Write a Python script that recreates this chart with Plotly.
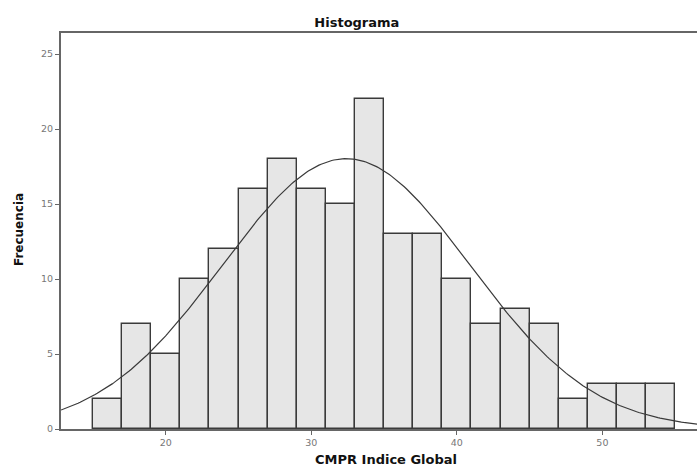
import numpy as np
import plotly.graph_objects as go

# Data
bin_edges = [15, 17, 19, 21, 23, 25, 27, 29, 31, 33, 35, 37, 39, 41, 43, 45, 47, 49, 51, 53, 55]
counts = [2, 7, 5, 10, 12, 16, 18, 16, 15, 22, 13, 13, 10, 7, 8, 7, 2, 3, 3, 3]
fit_mean = 32.4
fit_sd = 8.5
x_ticks = [20, 30, 40, 50]
y_ticks = [0, 5, 10, 15, 20, 25]
title_text = "Histograma"
x_title = "CMPR Indice Global"
y_title = "Frecuencia"

edges = np.array(bin_edges, dtype=float)
mids = (edges[:-1] + edges[1:]) / 2
widths = np.diff(edges)
n_total = sum(counts)
bw = widths.mean()

xs = np.linspace(12.8, 56.6, 300)
ys = n_total * bw / (fit_sd * np.sqrt(2 * np.pi)) * np.exp(-0.5 * ((xs - fit_mean) / fit_sd) ** 2)

fig = go.Figure()
fig.add_trace(go.Bar(
    x=mids, y=counts, width=widths,
    marker=dict(color="#e6e6e6", line=dict(color="#3a3a3a", width=1.4)),
    hoverinfo="x+y", showlegend=False,
))
fig.add_trace(go.Scatter(
    x=xs, y=ys, mode="lines",
    line=dict(color="#3a3a3a", width=1.2), showlegend=False,
))

bold = "DejaVu Sans, Verdana, sans-serif"
fig.update_layout(
    width=697, height=468,
    margin=dict(l=61, r=0, t=33, b=39),
    paper_bgcolor="white", plot_bgcolor="white",
    bargap=0,
    font=dict(family="DejaVu Sans, sans-serif"),
    title=dict(text=f"<b>{title_text}</b>", x=0.512, xanchor="center", y=0.953, yanchor="middle",
               font=dict(size=13, color="#111", family=bold)),
    annotations=[
        dict(text=f"<b>{x_title}</b>", xref="paper", yref="paper", x=0.511, y=-0.0765,
             xanchor="center", yanchor="middle", showarrow=False,
             font=dict(size=13, color="#111", family=bold)),
        dict(text=f"<b>{y_title}</b>", xref="paper", yref="paper", x=-0.066, y=0.5025,
             xanchor="center", yanchor="middle", showarrow=False, textangle=-90,
             font=dict(size=12, color="#111", family=bold)),
    ],
)
fig.update_xaxes(
    range=[12.8, 56.5], tickvals=x_ticks, ticks="outside", ticklen=4, tickcolor="#666",
    tickfont=dict(size=9.5, color="#777"),
    showline=True, linecolor="#666", linewidth=2, mirror=True,
    showgrid=False, zeroline=False,
)
fig.update_yaxes(
    range=[0, 26.4], tickvals=y_ticks, ticks="outside", ticklen=4, tickcolor="#666",
    tickfont=dict(size=9.5, color="#777"),
    showline=True, linecolor="#666", linewidth=2,
    showgrid=False, zeroline=False,
)

fig.write_html("out.html", config={"displayModeBar": False},
               post_script="document.body.style.margin='0';document.body.style.overflow='hidden';")
